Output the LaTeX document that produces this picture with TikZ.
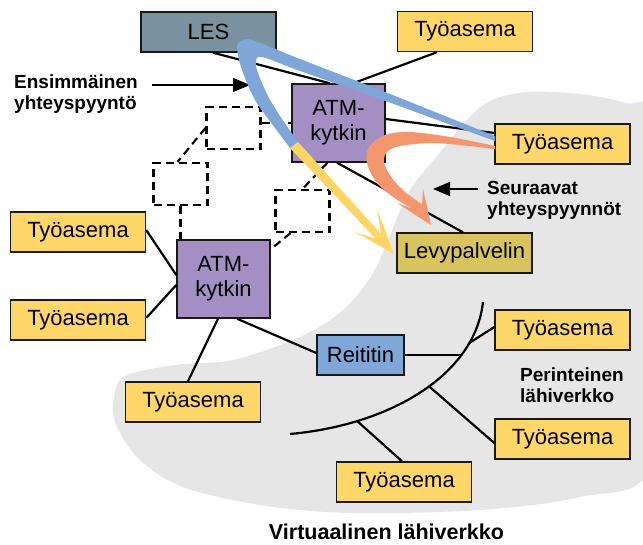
\documentclass[tikz,border=0pt]{standalone}
\usepackage{fontspec}
\setmainfont{Liberation Sans}
\usetikzlibrary{arrows.meta,calc}
\definecolor{wsy}{RGB}{254,215,104}
\definecolor{atmc}{RGB}{164,143,196}
\definecolor{lesc}{RGB}{122,146,160}
\definecolor{rtc}{RGB}{127,168,216}
\definecolor{levc}{RGB}{216,196,94}
\definecolor{grayreg}{RGB}{230,230,230}
\definecolor{bluearr}{RGB}{127,166,216}
\definecolor{yelarr}{RGB}{255,214,102}
\definecolor{orarr}{RGB}{244,150,110}
\begin{document}
\begin{tikzpicture}[x=1pt,y=-1pt,
  box/.style={draw=black!90,line width=1.4pt,inner sep=0pt,font=\fontsize{22}{25}\selectfont,align=center},
  ws/.style={box,fill=wsy,minimum width=135pt,minimum height=40pt},
  atm/.style={box,fill=atmc,minimum width=93pt,minimum height=78pt},
  dbox/.style={draw,line width=2.1pt,dash pattern=on 8pt off 5pt,inner sep=0pt,minimum width=54pt,minimum height=42pt},
  link/.style={line width=2.2pt},
  dlink/.style={line width=2.1pt,dash pattern=on 8pt off 5pt},
  lbl/.style={font=\bfseries\fontsize{19}{21}\selectfont,align=left,inner sep=0pt},
  ptr/.style={line width=1.1pt,-{Triangle[length=17pt,width=14pt]}}
]
\useasboundingbox (0,0) rectangle (643,545);
\begin{scope}
\clip (0,0) rectangle (643,545);
\fill[grayreg] plot[smooth cycle,tension=0.55] coordinates {
 (343,310) (372,275) (390,235) (410,190) (442,150) (467,120) (490,101) (527,92) (580,94) (625,103) (655,120)
 (655,300) (650,468) (580,497) (480,510) (350,513) (260,505) (183,487) (140,460) (116,425) (114,398) (125,376)
 (175,365) (233,360) (300,337)};
\end{scope}

% boxes
\node[box,fill=lesc,minimum width=135pt,minimum height=40pt] (les) at (208.5,32) {LES};
\node[ws] (ws1) at (465,31.5) {Työasema};
\node[atm] (atm1) at (338.5,123) {ATM-\\kytkin};
\node[ws] (ws2) at (562.5,144) {Työasema};
\node[box,fill=levc,minimum width=135pt,minimum height=40pt] (lev) at (464.5,253) {Levypalvelin};
\node[ws] (ws3) at (78,232) {Työasema};
\node[ws] (ws4) at (78,320) {Työasema};
\node[atm] (atm2) at (223.5,279) {ATM-\\kytkin};
\node[box,fill=rtc,minimum width=87pt,minimum height=40pt] (rt) at (360.5,355) {Reititin};
\node[ws] (ws5) at (193,402) {Työasema};
\node[ws] (ws6) at (562.5,330) {Työasema};
\node[ws] (ws7) at (562.5,439) {Työasema};
\node[ws] (ws8) at (404,482) {Työasema};

% dashed virtual boxes
\node[dbox] (d1) at (233.5,128) {};
\node[dbox] (d2) at (180.5,184) {};
\node[dbox] (d3) at (302.5,211) {};

% dashed links
\draw[dlink] ([yshift=5pt]d1.east) -- ([yshift=5pt]d1.east -| atm1.west);
\draw[dlink] (d1.west) -- ([xshift=-3pt]d2.north);
\draw[dlink] (d2.south) -- (d2.south |- atm2.north);
\draw[dlink] ([xshift=-11pt]atm1.south) -- (d3.north);
\draw[dlink] ([xshift=-12pt]d3.south) -- ([yshift=-10pt]atm2.north east);

% solid links
\draw[link] ([xshift=4.5pt]les.south) -- ([xshift=-8.5pt]atm1.north);
\draw[link] ([xshift=14.5pt]atm1.north) -- ([xshift=-28pt]ws1.south);
\draw[link] ([yshift=4pt]atm1.east) -- ([yshift=11pt]ws2.west);
\draw[link] ([xshift=-1.5pt]atm1.south) -- ([xshift=-1.5pt]lev.north);
\draw[link] ([yshift=2pt]ws3.east) -- ([yshift=4pt]atm2.west);
\draw[link] ([yshift=2pt]ws4.east) -- ([yshift=-6pt]atm2.west);
\draw[link] ([xshift=-5.5pt]atm2.south) -- ([xshift=-5pt]ws5.north);
\draw[link] ([xshift=13.5pt]atm2.south) -- ([yshift=2pt]rt.west);

% backbone of the traditional LAN
\coordinate (bbS) at (290,434);
\coordinate (bbE) at (483,302);
\draw[link] (bbS) .. controls (390,425) and (475,375) .. (bbE)
  coordinate[pos=0.235] (bbC) coordinate[pos=0.54] (bbB)
  coordinate[pos=0.73] (bbR) coordinate[pos=0.8] (bbA);
\draw[link] (rt.east) -- (rt.east -| bbR);
\draw[link] (bbA) -- ([yshift=3pt]ws6.west);
\draw[link] (bbB) -- ([yshift=-4pt]ws7.west);
\draw[link] (bbC) -- ([xshift=-2pt]ws8.north);

% labels and pointers
\node[lbl,anchor=north west] (l1) at (14,75) {Ensimmäinen\\yhteyspyyntö};
\coordinate (p1s) at (152,85);
\coordinate (p1e) at (250,85);
\draw[ptr] (p1s) -- (p1e);
\node[lbl,anchor=north west] (l2) at (487,181) {Seuraavat\\yhteyspyynnöt};
\coordinate (p2s) at (478,189);
\coordinate (p2e) at (433,189);
\draw[ptr] (p2s) -- (p2e);
\node[lbl,anchor=north west] (l3) at (520,368) {Perinteinen\\lähiverkko};
\node[font=\bfseries\fontsize{21.5}{23}\selectfont,inner sep=0pt,anchor=base] (l4) at (386.5,539) {Virtuaalinen lähiverkko};

% blue -> yellow first request arrow
\fill[bluearr] plot[smooth,tension=0.55] coordinates {(495,136) (440,114) (380,90) (300,59) (255,41) (243,40) (237,47) (242,70) (255,100) (272,124) (290,148)}
  -- (298,142) -- plot[smooth,tension=0.55] coordinates {(298,142) (282,119) (268,96) (258,73) (256,62) (262,57) (300,71) (380,99) (440,121) (495,141)} -- cycle;
\fill[yelarr] (290,148) -- (375.5,238.5) -- (355,232) -- (394,254) -- (377,209) -- (381,234) -- (298,142) -- cycle;

% orange subsequent request arrow
\fill[orarr] plot[smooth,tension=0.55] coordinates {(495,146) (450,137) (410,132) (385,135) (369,147) (367,163) (377,183) (396,199) (414.7,209.6)}
  -- (397,203) -- (431,225) -- (423,189) -- (422.1,204.4)
  -- plot[smooth,tension=0.55] coordinates {(422.1,204.4) (405,192) (392,178) (384,163) (387,152) (400,146) (430,143) (460,145) (495,149)} -- cycle;
\end{tikzpicture}
\end{document}
